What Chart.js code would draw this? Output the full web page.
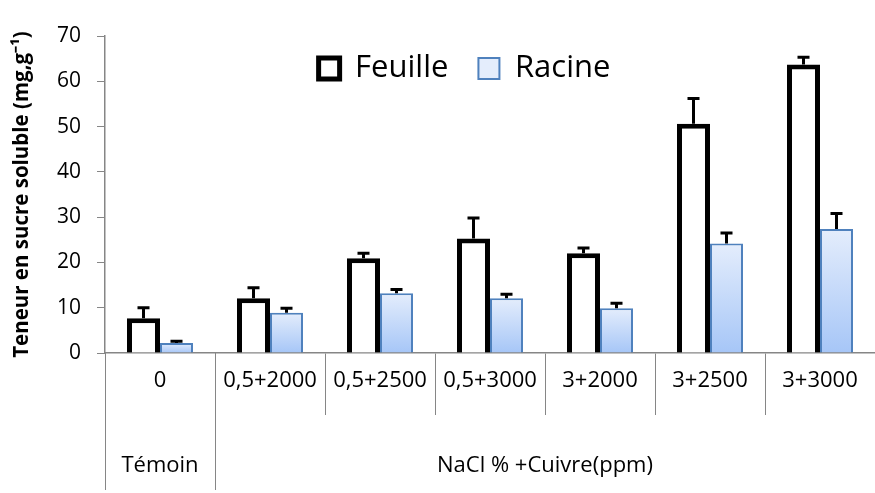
<!DOCTYPE html>
<html>
<head>
<meta charset="utf-8">
<script src="https://cdn.jsdelivr.net/npm/chart.js@4.4.0/dist/chart.umd.min.js"></script>
<style>
  body { margin: 0; background: #fff; }
</style>
</head>
<body>
<canvas id="chart" width="875" height="493"></canvas>
<script>
"use strict";

// categories + values
const categories = ["0", "0,5+2000", "0,5+2500", "0,5+3000", "3+2000", "3+2500", "3+3000"];
const feuille = [7.7, 12.1, 20.9, 25.3, 22.0, 50.6, 63.7];
const feuilleErr = [2.3, 2.3, 1.1, 4.5, 1.2, 5.6, 1.6];
const racine = [2.2, 8.9, 13.2, 12.1, 9.9, 24.2, 27.4];
const racineErr = [0.4, 1.0, 0.8, 0.9, 1.1, 2.3, 3.4];
const groupLabels = ["Témoin", "NaCl % +Cuivre(ppm)"];
const groupStart = [0, 1];
const groupEnd = [0, 6];
const yTicks = [0, 10, 20, 30, 40, 50, 60, 70];

const FONT = "'Open Sans', sans-serif";
const GRAY = "#868686";

// light blue gradient per bar (top light -> bottom darker)
function racineFill(ctx) {
  const chart = ctx.chart;
  const area = chart.chartArea;
  const y = chart.scales.y;
  if (!area || !y || ctx.raw === undefined) return "#cfe0fa";
  const top = y.getPixelForValue(ctx.raw);
  const g = chart.ctx.createLinearGradient(0, top, 0, area.bottom);
  g.addColorStop(0, "#e4edfc");
  g.addColorStop(1, "#a6c6f7");
  return g;
}

// error bars (upper part only is visible above the bar)
const errorBars = {
  id: "errorBars",
  afterDatasetsDraw(chart) {
    const errs = [feuilleErr, racineErr];
    const y = chart.scales.y;
    const c = chart.ctx;
    c.save();
    c.strokeStyle = "#000";
    c.lineWidth = 3;
    chart.data.datasets.forEach((ds, i) => {
      const meta = chart.getDatasetMeta(i);
      meta.data.forEach((bar, j) => {
        const top = y.getPixelForValue(ds.data[j] + errs[i][j]);
        c.beginPath();
        c.moveTo(bar.x, bar.y);
        c.lineTo(bar.x, top);
        c.moveTo(bar.x - 6, top);
        c.lineTo(bar.x + 6, top);
        c.stroke();
      });
    });
    c.restore();
  },
};

// second row of the x axis: group separators + group names
const groupAxis = {
  id: "groupAxis",
  afterDraw(chart) {
    const x = chart.scales.x;
    const area = chart.chartArea;
    const c = chart.ctx;
    const half = (x.getPixelForValue(1) - x.getPixelForValue(0)) / 2;
    const bottom = chart.height - 3;
    c.save();
    c.strokeStyle = GRAY;
    c.lineWidth = 1;
    c.fillStyle = "#000";
    c.font = "22px " + FONT;
    c.textAlign = "center";
    c.textBaseline = "middle";
    groupLabels.forEach((label, i) => {
      const left = x.getPixelForValue(groupStart[i]) - half;
      const right = x.getPixelForValue(groupEnd[i]) + half;
      c.beginPath();
      c.moveTo(Math.round(left) + 0.5, area.bottom);
      c.lineTo(Math.round(left) + 0.5, bottom);
      c.stroke();
      c.fillText(label, (left + right) / 2, 466);
    });
    c.restore();
  },
};

// legend is drawn inside the plot, a bit right of the canvas centre
const legendShift = {
  id: "legendShift",
  afterLayout(chart) {
    const lg = chart.legend;
    const dy = 23 - lg.top;
    lg.top += dy;
    lg.bottom += dy;
    lg.left += 27;
    lg.right += 27;
  },
};

const config = {
  type: "bar",
  data: {
    labels: categories,
    datasets: [
      {
        label: "Feuille",
        data: feuille,
        backgroundColor: "#ffffff",
        borderColor: "#000000",
        borderWidth: 5,
      },
      {
        label: "Racine",
        data: racine,
        backgroundColor: racineFill,
        borderColor: "#4f81bd",
        borderWidth: 2,
      },
    ],
  },
  options: {
    responsive: false,
    animation: false,
    layout: { padding: { top: -35, right: 0, left: 0, bottom: 0 } },
    datasets: {
      bar: { categoryPercentage: 0.6, barPercentage: 1.0 },
    },
    plugins: {
      legend: {
        position: "top",
        labels: {
          color: "#000",
          font: { family: FONT, size: 31 },
          boxWidth: 21,
          boxHeight: 21,
          padding: 30,
        },
      },
      tooltip: { enabled: false },
    },
    scales: {
      x: {
        offset: true,
        grid: {
          display: true,
          offset: true,
          drawOnChartArea: false,
          tickLength: 62,
          color: GRAY,
        },
        border: { color: GRAY, width: 1.5 },
        ticks: {
          color: "#000",
          font: { family: FONT, size: 22 },
          padding: -47,
          maxRotation: 0,
          autoSkip: false,
        },
        afterFit(scale) {
          scale.height = 140;
        },
      },
      y: {
        min: 0,
        max: 70,
        afterBuildTicks(scale) {
          scale.ticks = yTicks.map((v) => ({ value: v }));
        },
        grid: {
          drawOnChartArea: false,
          tickLength: 8,
          color: GRAY,
        },
        border: { color: GRAY, width: 1.5 },
        ticks: {
          color: "#000",
          font: { family: FONT, size: 21 },
          padding: 16,
        },
        title: {
          display: true,
          text: "Teneur en sucre soluble (mg,g⁻¹)",
          color: "#000",
          font: { family: FONT, size: 20.5, weight: "bold" },
          padding: { top: 10, bottom: 0 },
        },
        afterFit(scale) {
          scale.width = 105;
        },
      },
    },
  },
  plugins: [errorBars, groupAxis, legendShift],
};

const myChart = new Chart(document.getElementById("chart"), config);
</script>
</body>
</html>
